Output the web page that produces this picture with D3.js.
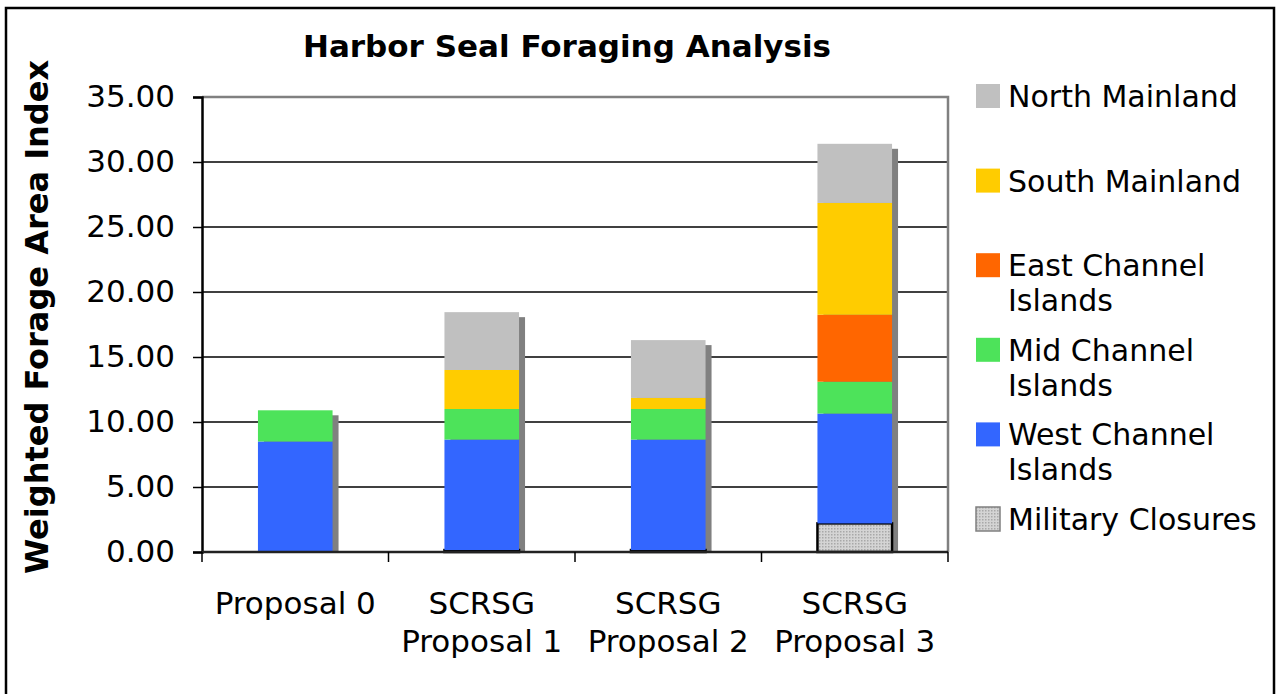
<!DOCTYPE html>
<html>
<head>
<meta charset="utf-8">
<script src="https://cdn.jsdelivr.net/npm/d3@7"></script>
<style>
  html, body { margin: 0; padding: 0; background: #fff; }
  svg { display: block; font-family: "DejaVu Sans", Verdana, sans-serif; }
</style>
</head>
<body>
<div id="chart"></div>
<script>
// categories, each split into its label lines
const categories = ["Proposal 0", "SCRSG Proposal 1", "SCRSG Proposal 2", "SCRSG Proposal 3"];
const categoryLines = [["Proposal 0"], ["SCRSG", "Proposal 1"], ["SCRSG", "Proposal 2"], ["SCRSG", "Proposal 3"]];

// series values, bottom of the stack first
const military = [0, 0.15, 0.15, 2.2];
const west     = [8.5, 8.5, 8.5, 8.45];
const mid      = [2.4, 2.35, 2.35, 2.45];
const east     = [0, 0, 0, 5.15];
const south    = [0, 3.0, 0.85, 8.6];
const north    = [0, 4.45, 4.45, 4.55];

const seriesNames = ["Military Closures", "West Channel Islands", "Mid Channel Islands",
                     "East Channel Islands", "South Mainland", "North Mainland"];
const seriesValues = [military, west, mid, east, south, north];

// legend labels (top to bottom) with their line breaks
const legendNames = ["North Mainland", "South Mainland", "East Channel Islands",
                     "Mid Channel Islands", "West Channel Islands", "Military Closures"];
const legendLines = [["North Mainland"], ["South Mainland"], ["East Channel", "Islands"],
                     ["Mid Channel", "Islands"], ["West Channel", "Islands"], ["Military Closures"]];

const yTicks = [0, 5, 10, 15, 20, 25, 30, 35];

const COLORS = {
  "North Mainland": "#C0C0C0",
  "South Mainland": "#FFCC00",
  "East Channel Islands": "#FF6600",
  "Mid Channel Islands": "#4DE35A",
  "West Channel Islands": "#3366FF",
  "Military Closures": "url(#dots)"
};

function draw() {
  const width = 1280, height = 694;
  const margin = { top: 97, left: 202, right: 332, bottom: 142 };
  const plotR = width - margin.right;   // 948
  const plotB = height - margin.bottom; // 552

  const svg = d3.select("#chart").append("svg")
    .attr("width", width)
    .attr("height", height);

  // dotted pattern for the closures
  const pat = svg.append("defs").append("pattern")
    .attr("id", "dots")
    .attr("width", 3).attr("height", 3)
    .attr("patternUnits", "userSpaceOnUse");
  pat.append("rect").attr("width", 3).attr("height", 3).attr("fill", "#d4d4d4");
  pat.append("rect").attr("width", 1.5).attr("height", 1.5).attr("fill", "#a8a8a8");

  // outer frame
  svg.append("rect")
    .attr("x", 6).attr("y", 8)
    .attr("width", 1268).attr("height", 710)
    .attr("fill", "none")
    .attr("stroke", "#000")
    .attr("stroke-width", 2.5);

  // data table for the stack
  const table = categories.map((c, i) => {
    const row = { cat: c };
    seriesNames.forEach((s, k) => row[s] = seriesValues[k][i]);
    return row;
  });
  const stacked = d3.stack().keys(seriesNames)(table);
  const totals = table.map(r => d3.sum(seriesNames, s => r[s]));

  // scales
  const x = d3.scaleBand()
    .domain(categories)
    .range([margin.left, plotR])
    .paddingInner(0.6)
    .paddingOuter(0.3);

  const y = d3.scaleLinear()
    .domain([0, 35])
    .range([plotB, margin.top]);

  const step = x.step();
  const bw = x.bandwidth();

  // gridlines
  svg.append("g")
    .selectAll("line")
    .data(yTicks.filter(t => t > 0 && t < 35))
    .enter().append("line")
    .attr("x1", margin.left).attr("x2", plotR)
    .attr("y1", d => y(d)).attr("y2", d => y(d))
    .attr("stroke", "#000")
    .attr("stroke-width", 1.5);

  // plot border (top and right, gray)
  svg.append("path")
    .attr("d", `M${margin.left},${y(35)}H${plotR}V${plotB}`)
    .attr("fill", "none")
    .attr("stroke", "#808080")
    .attr("stroke-width", 2.5);

  // shadows
  svg.append("g")
    .selectAll("rect")
    .data(categories)
    .enter().append("rect")
    .attr("x", d => x(d) + 6)
    .attr("y", (d, i) => y(totals[i]) + 5)
    .attr("width", bw)
    .attr("height", (d, i) => plotB - y(totals[i]) - 5)
    .attr("fill", "#808080");

  // stacked bars
  stacked.forEach(layer => {
    const isMil = layer.key === "Military Closures";
    svg.append("g")
      .selectAll("rect")
      .data(layer.filter(d => d[1] - d[0] > 0))
      .enter().append("rect")
      .attr("x", d => x(d.data.cat))
      .attr("y", d => y(d[1]))
      .attr("width", bw)
      .attr("height", d => y(d[0]) - y(d[1]))
      .attr("fill", COLORS[layer.key])
      .attr("stroke", isMil ? "#000" : "none")
      .attr("stroke-width", isMil ? 2.5 : 0);
  });

  // y axis
  const yAxis = svg.append("g")
    .attr("transform", `translate(${margin.left},0)`)
    .call(d3.axisLeft(y).tickValues(yTicks).tickFormat(d3.format(".2f")).tickSize(9).tickPadding(18));
  yAxis.select(".domain").attr("stroke", "#000").attr("stroke-width", 2.5);
  yAxis.selectAll(".tick line").attr("stroke", "#000").attr("stroke-width", 1.5);
  yAxis.selectAll(".tick text")
    .attr("font-size", "31px")
    .attr("fill", "#000")
    .attr("font-family", "DejaVu Sans, Verdana, sans-serif");

  // x axis line and boundary ticks
  svg.append("line")
    .attr("x1", margin.left).attr("x2", plotR)
    .attr("y1", plotB).attr("y2", plotB)
    .attr("stroke", "#222")
    .attr("stroke-width", 2.5);

  const bounds = categories.map(c => x(c) - step * x.paddingInner() / 2).concat([plotR]);
  svg.append("g")
    .selectAll("line")
    .data(bounds)
    .enter().append("line")
    .attr("x1", d => d).attr("x2", d => d)
    .attr("y1", plotB).attr("y2", plotB + 10)
    .attr("stroke", "#000")
    .attr("stroke-width", 1.5);

  // x labels
  const xl = svg.append("g")
    .selectAll("text")
    .data(categories)
    .enter().append("text")
    .attr("text-anchor", "middle")
    .attr("font-size", "31px")
    .attr("fill", "#000");
  xl.each(function(d, i) {
    const t = d3.select(this);
    categoryLines[i].forEach((ln, j) => {
      t.append("tspan")
        .attr("x", x(d) + bw / 2)
        .attr("y", 614 + j * 38)
        .text(ln);
    });
  });

  // title
  svg.append("text")
    .attr("x", 567).attr("y", 57)
    .attr("text-anchor", "middle")
    .attr("font-size", "31px")
    .attr("font-weight", "bold")
    .text("Harbor Seal Foraging Analysis");

  // y axis title
  svg.append("text")
    .attr("transform", `translate(48,${317}) rotate(-90)`)
    .attr("text-anchor", "middle")
    .attr("font-size", "32px")
    .attr("font-weight", "bold")
    .text("Weighted Forage Area Index");

  // legend
  const lg = svg.append("g")
    .selectAll("g")
    .data(legendNames)
    .enter().append("g")
    .attr("transform", (d, i) => `translate(976,${84 + i * 84.6})`);

  lg.append("rect")
    .attr("width", 24).attr("height", 24)
    .attr("fill", d => COLORS[d])
    .attr("stroke", d => d === "Military Closures" ? "#808080" : "none")
    .attr("stroke-width", 1.5);

  lg.append("text")
    .attr("font-size", "30px")
    .attr("fill", "#000")
    .each(function(d, i) {
      const t = d3.select(this);
      legendLines[i].forEach((ln, j) => {
        t.append("tspan")
          .attr("x", 32)
          .attr("y", 23 + j * 35)
          .text(ln);
      });
    });
}

draw();
</script>
</body>
</html>
